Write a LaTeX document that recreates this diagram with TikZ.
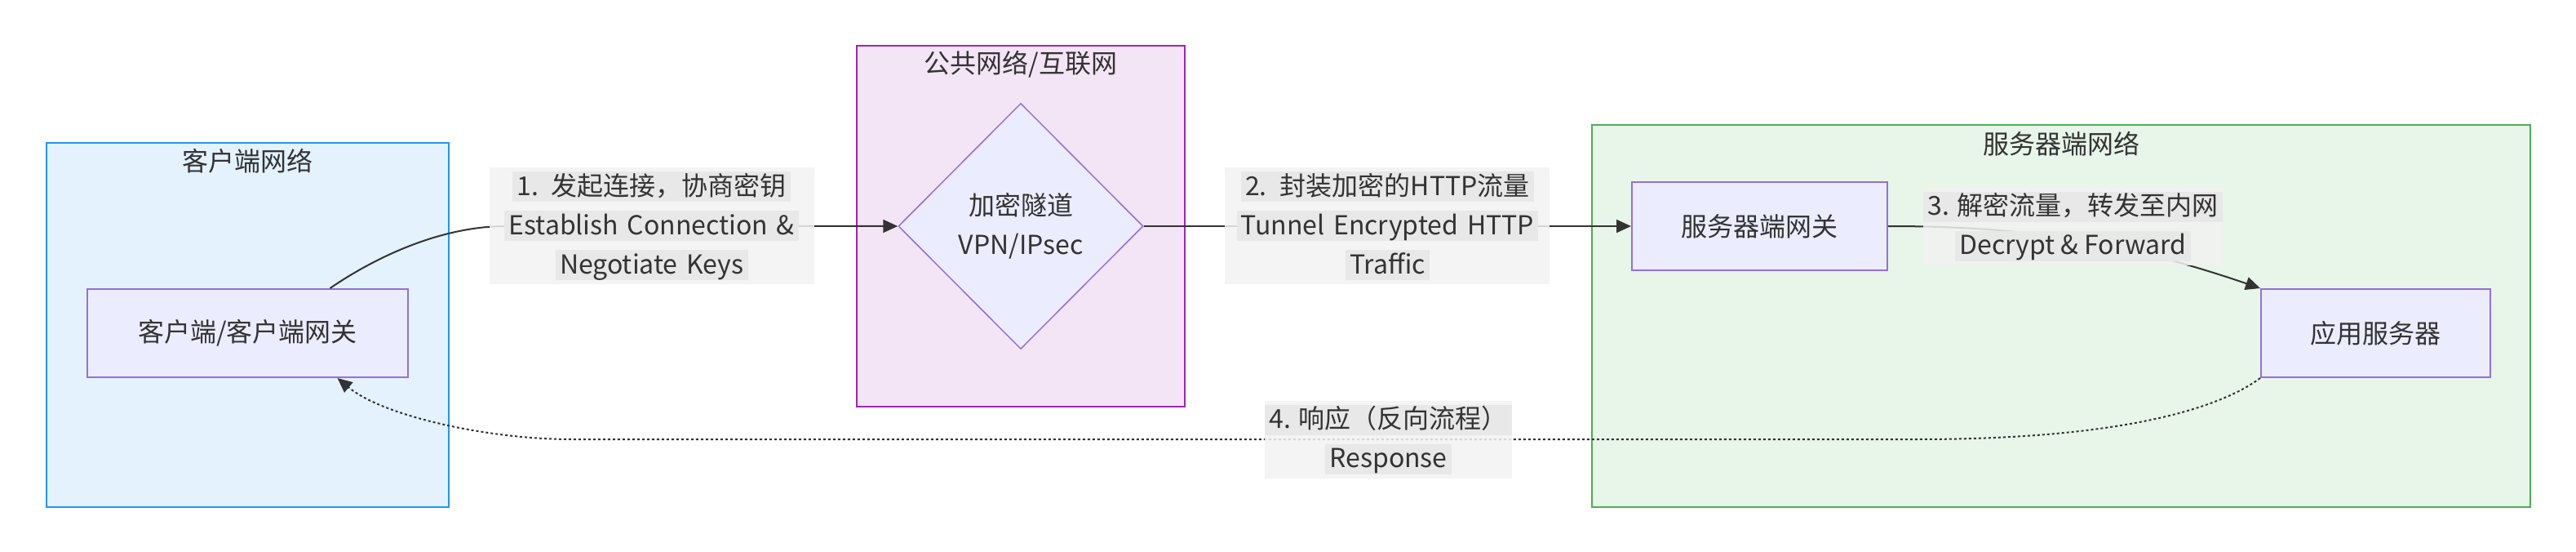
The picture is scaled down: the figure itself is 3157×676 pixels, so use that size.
\documentclass[tikz,border=0pt]{standalone}
\usepackage{fontspec}
\setmainfont{Noto Sans CJK SC}
\usetikzlibrary{positioning, backgrounds, arrows.meta, shapes.geometric}
\definecolor{cnodo}{HTML}{ECECFF}
\definecolor{cnodob}{HTML}{9370DB}
\definecolor{ccli}{HTML}{E3F2FD}
\definecolor{cclib}{HTML}{2196F3}
\definecolor{cpub}{HTML}{F3E5F5}
\definecolor{cpubb}{HTML}{9C27B0}
\definecolor{csrv}{HTML}{E8F5E9}
\definecolor{csrvb}{HTML}{4CAF50}
\definecolor{ctxt}{HTML}{333333}
\definecolor{clbl}{HTML}{F2F2F2}
\definecolor{clbli}{HTML}{E8E8E8}
\newcommand{\hl}[1]{{\fboxsep=0pt\colorbox{clbli}{\rule[-8pt]{0pt}{37pt}\,#1\,}}}

\begin{document}
\begin{tikzpicture}[x=1pt, y=-1pt, font=\fontsize{32pt}{48pt}\selectfont, text=ctxt,
    >={Triangle[length=18pt, width=16pt]},
    box/.style={draw=cnodob, line width=2pt, fill=cnodo, minimum height=108pt, align=center},
    tunnel/.style={diamond, draw=cnodob, line width=1.5pt, fill=cnodo, minimum width=300pt, minimum height=301pt, inner sep=0pt, align=center},
    zone/.style={line width=2.5pt, minimum width=#1},
    zlab/.style={inner sep=0pt},
    lbl/.style={fill=clbl, fill opacity=0.85, text opacity=1, inner xsep=0pt, inner ysep=5pt, align=center},
    flow/.style={->, draw=ctxt, line width=2pt},
    back/.style={flow, dash pattern=on 3pt off 3pt}]
  \useasboundingbox (0,0) rectangle (3157,676);

  \node[box, minimum width=393pt] (cgw) at (303.5,408) {客户端/客户端网关};
  \node[tunnel] (tun) at (1251,277) {加密隧道\\VPN/IPsec};
  \node[box, minimum width=313pt] (sgw) at (2156.5,277) {服务器端网关};
  \node[box, minimum width=281pt] (app) at (2911.5,408) {应用服务器};

  % 网络区域
  \begin{scope}[on background layer]
    \node[zone=493pt, draw=cclib, fill=ccli, minimum height=446pt] (zcli) at (303.5,398) {};
    \node[zone=402pt, draw=cpubb, fill=cpub, minimum height=442pt] (zpub) at (1251,277) {};
    \node[zone=1150pt, draw=csrvb, fill=csrv, minimum height=468pt] (zsrv) at (2526,387) {};
  \end{scope}
  \node[zlab] at ([yshift=-23pt]zcli.north) {客户端网络};
  \node[zlab] at ([yshift=-24pt]zpub.north) {公共网络/互联网};
  \node[zlab] at ([yshift=-24pt]zsrv.north) {服务器端网络};

  % 流程
  \draw[flow] ([xshift=101pt]cgw.north) .. controls (460,315) and (540,277) .. (620,277)
    -- node[lbl, text width=398pt, pos=0.372] {\hl{1. 发起连接，协商密钥}\\\hl{Establish Connection \&}\\\hl{Negotiate Keys}} (tun.west);
  \draw[flow] (tun.east) -- node[lbl, text width=398pt] {\hl{2. 封装加密的HTTP流量}\\\hl{Tunnel Encrypted HTTP}\\\hl{Traffic}} (sgw.west);
  \draw[flow] (sgw.east) .. controls (2480,277) and (2600,295)
    .. node[lbl, yshift=16pt] {\hl{3. 解密流量，转发至内网}\\\hl{Decrypt \& Forward}} (app.north west);
  \draw[back] (app.south west) .. controls (2720,500) and (2600,538) .. (2350,538)
    -- node[lbl, pos=0.393] {\hl{4. 响应（反向流程）}\\\hl{Response}} (700,538)
    .. controls (600,538) and (470,510) .. ([xshift=110pt]cgw.south);
\end{tikzpicture}
\end{document}
